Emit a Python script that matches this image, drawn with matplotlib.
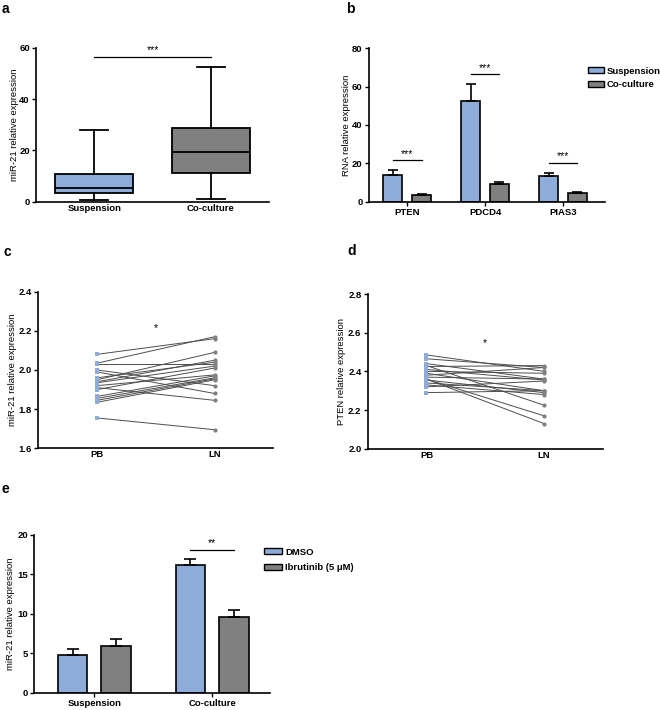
import matplotlib
matplotlib.use("Agg")
import matplotlib.pyplot as plt
from matplotlib.patches import Patch
import numpy as np

plt.rcParams['font.family'] = ['Liberation Sans', 'DejaVu Sans']

BLUE = '#8EACD9'
GRAY = '#808080'

# ---------------- data ----------------
# panel a (box plot)
a_groups = ['Suspension', 'Co-culture']
a_whislo = [0.65, 0.9]
a_q1 = [3.25, 11.0]
a_med = [5.45, 19.35]
a_q3 = [10.8, 28.6]
a_whishi = [28.0, 52.5]

# panel b (bars)
b_genes = ['PTEN', 'PDCD4', 'PIAS3']
b_susp = [13.8, 52.4, 13.2]
b_susp_err = [2.8, 9.0, 1.8]
b_cocul = [3.3, 9.2, 4.3]
b_cocul_err = [0.9, 1.2, 0.6]
b_sig_y = [21.5, 66.5, 20.3]
b_series = ['Suspension', 'Co-culture']

# panel c (paired)
c_pb = [2.08, 2.035, 2.03, 2.00, 1.99, 1.96, 1.95, 1.94, 1.935, 1.92,
        1.91, 1.90, 1.865, 1.855, 1.845, 1.835, 1.755]
c_ln = [2.16, 2.17, 2.03, 1.92, 1.88, 2.04, 2.09, 2.05, 2.02, 1.975,
        1.845, 2.01, 1.97, 1.96, 1.955, 1.95, 1.695]

# panel d (paired)
d_pb = [2.485, 2.465, 2.44, 2.43, 2.425, 2.41, 2.40, 2.39, 2.38, 2.37,
        2.36, 2.355, 2.34, 2.33, 2.32, 2.29, 2.36]
d_ln = [2.40, 2.42, 2.36, 2.225, 2.43, 2.355, 2.39, 2.30, 2.42, 2.36,
        2.17, 2.29, 2.30, 2.28, 2.35, 2.30, 2.13]
cd_cats = ['PB', 'LN']

# panel e (bars)
e_groups = ['Suspension', 'Co-culture']
e_dmso = [4.75, 16.2]
e_dmso_err = [0.8, 0.7]
e_ibr = [5.95, 9.65]
e_ibr_err = [0.8, 0.85]
e_series = ['DMSO', 'Ibrutinib (5 μM)']

# ---------------- layout ----------------
W, H = 660, 710
fig = plt.figure(figsize=(W / 100, H / 100), dpi=100)


def rect(l, t, r, b):
    return [l / W, 1 - b / H, (r - l) / W, (b - t) / H]


FS = 6.8
STAR = 7.5


def style(ax, ylabel, labelx):
    for s in ['top', 'right']:
        ax.spines[s].set_visible(False)
    for s in ['left', 'bottom']:
        ax.spines[s].set_linewidth(1.2)
    ax.tick_params(axis='both', direction='out', length=3, width=1.0,
                   labelsize=FS, pad=1.5)
    for lab in ax.get_xticklabels() + ax.get_yticklabels():
        lab.set_fontweight('bold')
    ax.set_ylabel(ylabel, fontsize=FS)
    ax.yaxis.set_label_coords(labelx, 0.5)


def letter(x, y, s):
    fig.text(x / W, 1 - y / H, s, fontsize=10, fontweight='bold',
             ha='left', va='center')


# ---- panel a ----
axa = fig.add_axes(rect(36, 47.7, 269, 201.7))
stats = []
for i in range(len(a_groups)):
    stats.append(dict(med=a_med[i], q1=a_q1[i], q3=a_q3[i],
                      whislo=a_whislo[i], whishi=a_whishi[i], fliers=[]))
bp = axa.bxp(stats, positions=[0, 1], widths=0.667, patch_artist=True,
             showfliers=False, capwidths=0.24,
             boxprops=dict(linewidth=1.3, edgecolor='black'),
             medianprops=dict(color='black', linewidth=1.3),
             whiskerprops=dict(color='black', linewidth=1.3),
             capprops=dict(color='black', linewidth=1.3))
for patch, c in zip(bp['boxes'], [BLUE, GRAY]):
    patch.set_facecolor(c)
axa.set_xlim(-0.5, 1.5)
axa.set_ylim(0, 60)
axa.set_yticks([0, 20, 40, 60])
axa.set_xticks([0, 1])
axa.set_xticklabels(a_groups)
axa.plot([0, 1], [56.5, 56.5], color='black', lw=0.9)
axa.text(0.5, 57.0, '***', ha='center', va='bottom', fontsize=STAR)
style(axa, 'miR-21 relative expression', -0.073)
axa.tick_params(axis='x', length=0)
letter(2, 9, 'a')

# ---- panel b ----
axb = fig.add_axes(rect(369, 48.3, 605, 201.7))
xb = np.arange(len(b_genes))
bw, off = 0.25, 0.185
axb.bar(xb - off, b_susp, bw, color=BLUE, edgecolor='black', lw=1.2,
        yerr=[[0] * 3, b_susp_err], capsize=3.5,
        error_kw=dict(elinewidth=1.2, capthick=1.2), zorder=2)
axb.bar(xb + off, b_cocul, bw, color=GRAY, edgecolor='black', lw=1.2,
        yerr=[[0] * 3, b_cocul_err], capsize=3.5,
        error_kw=dict(elinewidth=1.2, capthick=1.2), zorder=2)
for i in range(3):
    axb.plot([xb[i] - off, xb[i] + off], [b_sig_y[i]] * 2, color='black', lw=0.9)
    axb.text(xb[i], b_sig_y[i] + 0.8, '***', ha='center', va='bottom', fontsize=STAR)
axb.set_xlim(-0.49, 2.54)
axb.set_ylim(0, 80)
axb.set_yticks([0, 20, 40, 60, 80])
axb.set_xticks(xb)
axb.set_xticklabels(b_genes)
style(axb, 'RNA relative expression', -0.078)
axb.legend(handles=[Patch(facecolor=BLUE, edgecolor='black', lw=1.0),
                    Patch(facecolor=GRAY, edgecolor='black', lw=1.0)],
           labels=b_series, loc='upper left', bbox_to_anchor=(0.927, 0.88),
           frameon=False, handlelength=1.7, handleheight=0.6,
           handletextpad=0.3, borderpad=0, borderaxespad=0, labelspacing=0.5,
           prop=dict(weight='bold', size=FS))
letter(346, 9, 'b')


# ---- panels c, d ----
def paired(ax, pb, ln, ylim, yticks, star_y, ylabel, labelx):
    for p, l in zip(pb, ln):
        ax.plot([0, 1], [p, l], color='#4d4d4d', lw=0.7, zorder=1)
    ax.scatter(np.zeros(len(pb)), pb, s=9, marker='s', color=BLUE, zorder=3,
               linewidths=0)
    ax.scatter(np.ones(len(ln)), ln, s=9, color=GRAY, zorder=3, linewidths=0)
    ax.set_xlim(-0.5, 1.5)
    ax.set_ylim(*ylim)
    ax.set_yticks(yticks)
    ax.set_yticklabels([f'{v:.1f}' for v in yticks])
    ax.set_xticks([0, 1])
    ax.set_xticklabels(cd_cats)
    ax.text(0.5, star_y, '*', ha='center', va='center', fontsize=STAR)
    style(ax, ylabel, labelx)
    ax.tick_params(axis='x', length=0)


axc = fig.add_axes(rect(38.3, 291.7, 273.3, 448.3))
paired(axc, c_pb, c_ln, (1.6, 2.4), [1.6, 1.8, 2.0, 2.2, 2.4], 2.215,
       'miR-21 relative expression', -0.091)
letter(3, 252, 'c')

axd = fig.add_axes(rect(367.7, 294, 602.7, 448.7))
paired(axd, d_pb, d_ln, (2.0, 2.8), [2.0, 2.2, 2.4, 2.6, 2.8], 2.545,
       'PTEN relative expression', -0.094)
letter(347, 251, 'd')

# ---- panel e ----
axe = fig.add_axes(rect(34.3, 535, 270, 692.7))
xe = np.arange(len(e_groups))
axe.bar(xe - off, e_dmso, bw, color=BLUE, edgecolor='black', lw=1.2,
        yerr=[[0] * 2, e_dmso_err], capsize=4.5,
        error_kw=dict(elinewidth=1.2, capthick=1.2), zorder=2)
axe.bar(xe + off, e_ibr, bw, color=GRAY, edgecolor='black', lw=1.2,
        yerr=[[0] * 2, e_ibr_err], capsize=4.5,
        error_kw=dict(elinewidth=1.2, capthick=1.2), zorder=2)
axe.plot([1 - off, 1 + off], [18.15, 18.15], color='black', lw=0.9)
axe.text(1, 18.4, '**', ha='center', va='bottom', fontsize=STAR)
axe.set_xlim(-0.51, 1.49)
axe.set_ylim(0, 20)
axe.set_yticks([0, 5, 10, 15, 20])
axe.set_xticks(xe)
axe.set_xticklabels(e_groups)
style(axe, 'miR-21 relative expression', -0.082)
axe.legend(handles=[Patch(facecolor=BLUE, edgecolor='black', lw=1.0),
                    Patch(facecolor=GRAY, edgecolor='black', lw=1.0)],
           labels=e_series, loc='upper left', bbox_to_anchor=(0.975, 0.919),
           frameon=False, handlelength=1.9, handleheight=0.6,
           handletextpad=0.35, borderpad=0, borderaxespad=0, labelspacing=0.65,
           prop=dict(weight='bold', size=FS))
letter(2, 489, 'e')

fig.savefig('out.png', dpi=100)
